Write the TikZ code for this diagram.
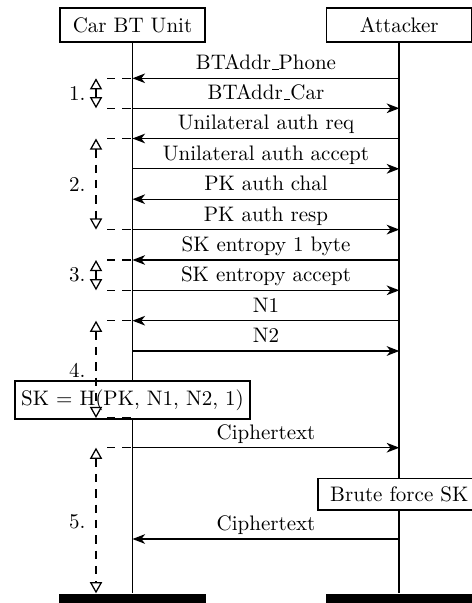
\documentclass[tikz,border=0pt]{standalone}
\usetikzlibrary{arrows.meta}
\newcommand\myusc{\leavevmode\kern.06em\vbox{\hrule width.3em height 0.45pt}}
\begin{document}
\begin{tikzpicture}[x=0.476pt,y=-0.476pt,
  actor/.style={draw, line width=0.8pt, fill=white, minimum width=69.3pt, minimum height=15.9pt, inner sep=0pt},
  endbar/.style={fill=black, draw=none, minimum width=69.7pt, minimum height=6pt, inner sep=0pt, anchor=north},
  life/.style={line width=0.8pt},
  msg/.style={line width=0.65pt, -{Stealth[length=6pt,width=4.6pt,inset=1.8pt]}},
  lbl/.style={anchor=base, inner sep=0pt},
  phase/.style={line width=0.6pt, dash pattern=on 4pt off 3.3pt},
  span/.style={line width=0.6pt, dash pattern=on 4pt off 3.3pt, {Triangle[open,length=5.3pt,width=5.8pt]}-{Triangle[open,length=5.3pt,width=5.8pt]}},
  grp/.style={anchor=east, inner sep=0pt},
  action/.style={draw, line width=0.8pt, fill=white, inner sep=0pt},
  ]
\useasboundingbox (0,0) rectangle (471,603);

% actors and end bars
\node[actor] (car) at (132.5,25) {Car BT Unit};
\node[actor] (att) at (399.3,25) {Attacker};
\node[endbar] (carend) at (132.5,593.3) {};
\node[endbar] (attend) at (399.3,593.3) {};

% lifelines
\draw[life] (car.south) -- (carend.north);
\draw[life] (att.south) -- (attend.north);

% message end points
\foreach \i/\y in {1/78.3, 2/108.3, 3/138.5, 4/168.8, 5/199.2, 6/229.6, 7/260, 8/290.3, 9/320.7, 10/351, 11/447.7, 12/539} {
  \coordinate (c\i) at (132.5,\y);
  \coordinate (a\i) at (399.3,\y);
  \coordinate (p\i) at (107,\y);
  \coordinate (g\i) at (96,\y);
}

% action boxes
\node[action, minimum width=111.9pt, minimum height=18pt] (sk) at (132.5,400) {SK = H(PK, N1, N2, 1)};
\node[action, minimum width=77.7pt, minimum height=15.1pt] (bf) at (399.3,494.2) {Brute force SK};

% messages
\draw[msg] (a1) -- (c1);
\draw[msg] (c2) -- (a2);
\draw[msg] (a3) -- (c3);
\draw[msg] (c4) -- (a4);
\draw[msg] (a5) -- (c5);
\draw[msg] (c6) -- (a6);
\draw[msg] (a7) -- (c7);
\draw[msg] (c8) -- (a8);
\draw[msg] (a9) -- (c9);
\draw[msg] (c10) -- (a10);
\draw[msg] (c11) -- (a11);
\draw[msg] (a12) -- (c12);

% message labels
\node[lbl] (l1) at (266,69.8) {BTAddr\myusc Phone};
\node[lbl] (l2) at (266,99.8) {BTAddr\myusc Car};
\node[lbl] (l3) at (266,130) {Unilateral auth req};
\node[lbl] (l4) at (266,160.3) {Unilateral auth accept};
\node[lbl] (l5) at (266,190.7) {PK auth chal};
\node[lbl] (l6) at (266,221.1) {PK auth resp};
\node[lbl] (l7) at (266,251.5) {SK entropy 1 byte};
\node[lbl] (l8) at (266,281.8) {SK entropy accept};
\node[lbl] (l9) at (266,312.2) {N1};
\node[lbl] (l10) at (266,342.5) {N2};
\node[lbl] (l11) at (266,439.2) {Ciphertext};
\node[lbl] (l12) at (266,530.5) {Ciphertext};

% phase annotations
\coordinate (p13) at (107,418);
\coordinate (c13) at (132.5,418);
\coordinate (g13) at (96,418);
\coordinate (g14) at (96,593.3);

\draw[phase] (p1) -- (c1);
\draw[phase] (p2) -- (c2);
\draw[span] (g1) -- (g2);
\node[grp] (n1) at (86,93.8) {1.};

\draw[phase] (p3) -- (c3);
\draw[phase] (p6) -- (c6);
\draw[span] (g3) -- (g6);
\node[grp] (n2) at (86,184.5) {2.};

\draw[phase] (p7) -- (c7);
\draw[phase] (p8) -- (c8);
\draw[span] (g7) -- (g8);
\node[grp] (n3) at (86,274.5) {3.};

\draw[phase] (p9) -- (c9);
\draw[phase] (p13) -- (c13);
\draw[span] (g9) -- (g13);
\node[grp] (n4) at (86,370.5) {4.};

\draw[phase] (p11) -- (c11);
\draw[span] (g11) -- (g14);
\node[grp] (n5) at (86,521.5) {5.};
\end{tikzpicture}
\end{document}
